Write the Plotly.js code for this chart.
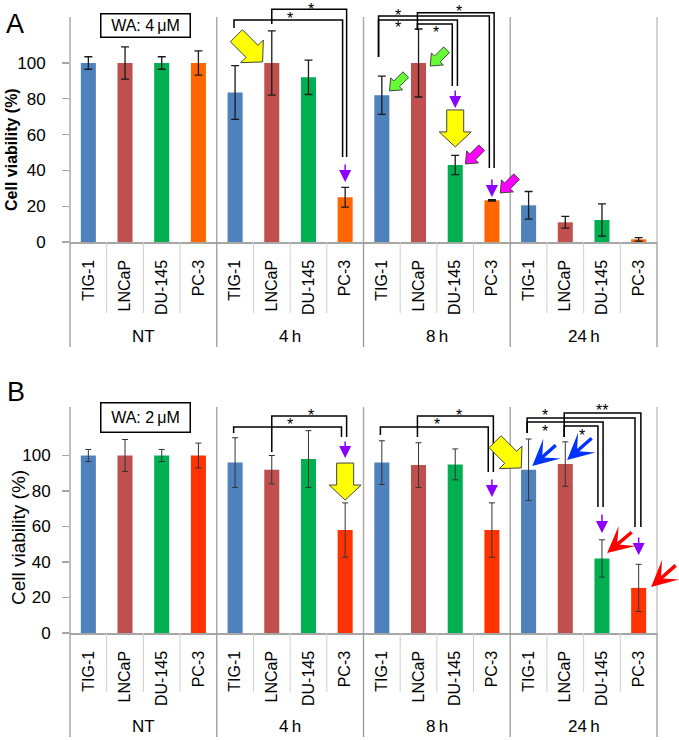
<!DOCTYPE html>
<html>
<head>
<meta charset="utf-8">
<script src="https://cdn.plot.ly/plotly-3.0.1.min.js"></script>
<style>body{margin:0;background:#fff}</style>
</head>
<body>
<div id="chart" style="width:679px;height:740px"></div>
<script>
let cellLines = ['TIG-1', 'LNCaP', 'DU-145', 'PC-3']
let timePoints = ['NT', '4\u2009h', '8\u2009h', '24\u2009h']

// WA 4 uM
let viabilityA = [100, 100, 100, 100, 83.5, 100, 92, 25, 82, 100, 43, 23.3, 20.5, 11, 12.3, 1.5]
let errorA = [3.5, 9, 3.5, 6.8, 15, 18, 9.6, 5.5, 10.7, 19, 5.4, 0.4, 7.7, 3.3, 9, 1]
// WA 2 uM
let viabilityB = [100, 100, 100, 100, 96, 92, 98, 58, 96, 94.6, 95, 58, 92, 95.2, 42, 25.4]
let errorB = [3.4, 9, 3.4, 7, 14, 8, 16, 15.3, 12.3, 12.6, 8.7, 15.3, 17.3, 12.5, 10.5, 13.3]

let colorsA = ['#4F81BD', '#C0504D', '#00B050', '#FF6600']
let colorsB = ['#4F81BD', '#C0504D', '#00B050', '#FF3300']

// significance brackets (data units): left leg x, leg end, top, right leg x, right leg end, star
let bracketsA = [
  {lx: 3.97, lEnd: 119.6, top: 124.0, rx: 6.93, rEnd: 47.5, sx: 5.49, sy: 124.8, text: '*'},
  {lx: 5.0, lEnd: 121.8, top: 130.0, rx: 7.04, rEnd: 47.5, sx: 6.08, sy: 129.9, text: '*'},
  {lx: 7.91, lEnd: 103.4, top: 126.3, rx: 10.93, rEnd: 41.3, sx: 8.44, sy: 126.4, text: '*'},
  {lx: 7.91, lEnd: 103.4, top: 124.0, rx: 10.06, rEnd: 87.2, sx: 8.43, sy: 119.6, text: '*'},
  {lx: 8.97, lEnd: 118.4, top: 128.1, rx: 11.06, rEnd: 41.3, sx: 10.09, sy: 128.9, text: '*'},
  {lx: 8.97, lEnd: 118.4, top: 121.8, rx: 9.92, rEnd: 87.2, sx: 9.48, sy: 116.8, text: '*'}
]
let bracketsB = [
  {lx: 3.96, lEnd: 112.7, top: 116.1, rx: 6.90, rEnd: 110.4, sx: 5.49, sy: 117.2, text: '*'},
  {lx: 5.0, lEnd: 102, top: 122.3, rx: 7.04, rEnd: 110.4, sx: 6.08, sy: 122.8, text: '*'},
  {lx: 7.96, lEnd: 111.5, top: 116.1, rx: 10.90, rEnd: 90.7, sx: 9.49, sy: 117.2, text: '*'},
  {lx: 8.97, lEnd: 110.4, top: 122.3, rx: 11.04, rEnd: 90.7, sx: 10.09, sy: 122.8, text: '*'},
  {lx: 11.96, lEnd: 112.7, top: 121.1, rx: 14.90, rEnd: 59.7, sx: 12.45, sy: 122.3, text: '*'},
  {lx: 11.96, lEnd: 112.7, top: 118.9, rx: 14.03, rEnd: 71.0, sx: 12.45, sy: 113.8, text: '*'},
  {lx: 12.97, lEnd: 110.4, top: 123.9, rx: 15.06, rEnd: 59.7, sx: 14.0, sy: 125.1, text: '**'},
  {lx: 12.97, lEnd: 110.4, top: 116.6, rx: 13.89, rEnd: 71.0, sx: 13.46, sy: 111.5, text: '*'}
]

let font = 'Arial, "Liberation Sans", sans-serif'
let idx = Array.from({length: 16}, (v, k) => k)
let labels = idx.map(function (i) { return cellLines[i % 4] })

function barTrace (values, errors, colors, xa, ya, errStyle) {
  return {
    type: 'bar',
    x: idx,
    y: values,
    xaxis: xa,
    yaxis: ya,
    width: 0.41,
    marker: {color: idx.map(function (i) { return colors[i % 4] })},
    error_y: {type: 'data', array: errors, visible: true, color: errStyle.color, thickness: errStyle.thickness, width: errStyle.width},
    hoverinfo: 'y'
  }
}

function makeX (anchor) {
  return {
    domain: [70 / 679, 657 / 679],
    range: [-0.5, 15.5],
    anchor: anchor,
    tickmode: 'array',
    tickvals: idx,
    ticktext: labels,
    tickangle: -90,
    tickfont: {size: 16, family: font},
    ticks: '',
    ticklabelstandoff: 10,
    showline: true,
    linecolor: '#A6A6A6',
    linewidth: 1.5,
    showgrid: false,
    zeroline: false
  }
}

function makeY (anchor, domain, top, standoff) {
  return {
    domain: domain,
    range: [0, top],
    anchor: anchor,
    tickmode: 'array',
    tickvals: [0, 20, 40, 60, 80, 100],
    ticks: 'outside',
    ticklen: 7,
    tickwidth: 1.3,
    tickcolor: '#A6A6A6',
    tickfont: {size: 17, family: font},
    ticklabelstandoff: standoff,
    showline: false,
    showgrid: false,
    zeroline: false
  }
}

function blockArrow (xa, ya, tipX, tipY, dir, size, fill) {
  // outline in pixels around the tip, pointing along dir (y up)
  let len = Math.hypot(dir[0], dir[1])
  let d = [dir[0] / len, dir[1] / len]
  let p = [-d[1], d[0]]
  let pts = [[0, 0], [-size.head, size.headW / 2], [-size.head, size.shaftW / 2], [-size.len, size.shaftW / 2],
    [-size.len, -size.shaftW / 2], [-size.head, -size.shaftW / 2], [-size.head, -size.headW / 2]]
  let path = pts.map(function (q, i) {
    let x = q[0] * d[0] + q[1] * p[0]
    let y = q[0] * d[1] + q[1] * p[1]
    return (i === 0 ? 'M' : 'L') + x.toFixed(1) + ',' + y.toFixed(1)
  }).join(' ') + ' Z'
  return {
    type: 'path', xref: xa, yref: ya, xsizemode: 'pixel', ysizemode: 'pixel',
    xanchor: tipX, yanchor: tipY, path: path, fillcolor: fill,
    line: {color: '#444', width: 1}, layer: 'above'
  }
}

function lineArrow (xa, ya, x, y, ax, ay, color, head, width, size) {
  return {
    xref: xa, yref: ya, x: x, y: y, ax: ax, ay: ay, text: '',
    showarrow: true, arrowhead: head, arrowwidth: width, arrowsize: size, arrowcolor: color
  }
}

function paperText (px, py, text, size, extra) {
  let a = {xref: 'paper', yref: 'paper', x: px / 679, y: 1 - py / 740, text: text, showarrow: false,
    xanchor: 'center', yanchor: 'middle', font: {size: size, family: font, color: 'black'}}
  return Object.assign(a, extra || {})
}

let big = {len: 37, head: 15, headW: 32, shaftW: 17}
let small = {len: 23, head: 10, headW: 17, shaftW: 8}

let shapes = []
let annotations = []

function panelFrame (xa, ya, plotTop, sepBottom, groupBottom, axisBottom) {
  for (let g = 0; g <= 4; g++) {
    // group dividers inside the plot
    shapes.push({type: 'line', xref: xa + ' domain', yref: ya, x0: g / 4, x1: g / 4, y0: 0, y1: plotTop,
      line: {color: g === 4 ? '#C4C4C4' : '#ABABAB', width: 1.5}})
    // group dividers under the axis
    shapes.push({type: 'line', xref: xa + ' domain', yref: 'paper', x0: g / 4, x1: g / 4, y0: axisBottom, y1: groupBottom,
      line: {color: '#9A9A9A', width: 1.3}})
  }
  for (let i = 0; i < 15; i++) {
    if ((i + 1) % 4 === 0) continue
    shapes.push({type: 'line', xref: xa, yref: 'paper', x0: i + 0.5, x1: i + 0.5, y0: axisBottom, y1: sepBottom,
      line: {color: '#CFCFCF', width: 1}})
  }
}

function drawBrackets (list, xa, ya) {
  for (let b of list) {
    shapes.push({type: 'path', xref: xa, yref: ya, layer: 'above',
      path: 'M' + b.lx + ',' + b.lEnd + ' L' + b.lx + ',' + b.top + ' L' + b.rx + ',' + b.top + ' L' + b.rx + ',' + b.rEnd,
      line: {color: 'black', width: 1.5}})
    annotations.push({xref: xa, yref: ya, x: b.sx, y: b.sy, text: b.text, showarrow: false,
      font: {size: 16, family: font, color: 'black'}, xanchor: 'center', yanchor: 'middle'})
  }
}

panelFrame('x', 'y', 125.7, 1 - 313 / 740, 1 - 347 / 740, 1 - 242 / 740)
panelFrame('x2', 'y2', 127.3, 1 - 692 / 740, 1 - 737 / 740, 1 - 633 / 740)
drawBrackets(bracketsA, 'x', 'y')
drawBrackets(bracketsB, 'x2', 'y2')

// block arrows, panel A
shapes.push(blockArrow('x', 'y', 4.75, 100.6, [1, -1], big, '#FFFF00'))
shapes.push(blockArrow('x', 'y', 10.0, 53.1, [0, -1], big, '#FFFF00'))
shapes.push(blockArrow('x', 'y', 8.21, 84.4, [-1, -1], small, '#66FF33'))
shapes.push(blockArrow('x', 'y', 9.32, 98.3, [-1, -1], small, '#66FF33'))
shapes.push(blockArrow('x', 'y', 10.28, 43.6, [-1, -1], small, '#FF00FF'))
shapes.push(blockArrow('x', 'y', 11.23, 27.4, [-1, -1], small, '#FF00FF'))
// block arrows, panel B
shapes.push(blockArrow('x2', 'y2', 7.0, 74.9, [0, -1], big, '#FFFF00'))
shapes.push(blockArrow('x2', 'y2', 11.8, 93, [1, -1], big, '#FFFF00'))

let purple = '#8B00FF'
annotations.push(lineArrow('x', 'y', 7, 33.5, 0, -19, purple, 2, 1.5, 1.6))
annotations.push(lineArrow('x', 'y', 10, 74.9, 0, -19, purple, 2, 1.5, 1.6))
annotations.push(lineArrow('x', 'y', 11, 25.1, 0, -19, purple, 2, 1.5, 1.6))
annotations.push(lineArrow('x2', 'y2', 7, 98.6, 0, -18, purple, 2, 1.5, 1.6))
annotations.push(lineArrow('x2', 'y2', 11, 76.6, 0, -19, purple, 2, 1.5, 1.6))
annotations.push(lineArrow('x2', 'y2', 14, 56.3, 0, -20, purple, 2, 1.5, 1.6))
annotations.push(lineArrow('x2', 'y2', 15, 43.9, 0, -19, purple, 2, 1.5, 1.6))
annotations.push(lineArrow('x2', 'y2', 12.10, 94.1, 25, -22, '#0033FF', 3, 3.5, 1.25))
annotations.push(lineArrow('x2', 'y2', 13.05, 97.5, 26, -23, '#0033FF', 3, 3.5, 1.25))
annotations.push(lineArrow('x2', 'y2', 14.14, 45.1, 26, -22, '#FF0000', 3, 3.5, 1.25))
annotations.push(lineArrow('x2', 'y2', 15.34, 25.9, 26, -23, '#FF0000', 3, 3.5, 1.25))

// time point labels
for (let g = 0; g < 4; g++) {
  annotations.push({xref: 'x', yref: 'paper', x: g * 4 + 1.5, y: 1 - 336 / 740, text: timePoints[g], showarrow: false,
    xanchor: 'center', yanchor: 'middle', font: {size: 17, family: font}})
  annotations.push({xref: 'x2', yref: 'paper', x: g * 4 + 1.5, y: 1 - 726 / 740, text: timePoints[g], showarrow: false,
    xanchor: 'center', yanchor: 'middle', font: {size: 17, family: font}})
}

// panel letters, dose boxes, y titles
annotations.push(paperText(15, 24, 'A', 27))
annotations.push(paperText(16, 392, 'B', 27))
annotations.push(paperText(145, 26, 'WA: 4\u2009\u03bcM', 16,
  {bordercolor: 'black', borderwidth: 1.5, borderpad: 2, bgcolor: 'white', width: 84, height: 18}))
annotations.push(paperText(145, 417, 'WA: 2\u2009\u03bcM', 16,
  {bordercolor: 'black', borderwidth: 1.5, borderpad: 2, bgcolor: 'white', width: 84, height: 24}))
annotations.push(paperText(11, 150, '<b>Cell viability (%)</b>', 16, {textangle: -90}))
annotations.push(paperText(18, 538, 'Cell viability (%)', 19, {textangle: -90}))

let traces = [
  barTrace(viabilityA, errorA, colorsA, 'x', 'y', {color: '#1a1a1a', thickness: 1.3, width: 4}),
  barTrace(viabilityB, errorB, colorsB, 'x2', 'y2', {color: '#333333', thickness: 1, width: 3})
]

let layout = {
  width: 679,
  height: 740,
  margin: {l: 0, r: 0, t: 0, b: 0},
  showlegend: false,
  paper_bgcolor: 'white',
  plot_bgcolor: 'rgba(0,0,0,0)',
  font: {family: font, color: 'black'},
  xaxis: makeX('y'),
  yaxis: makeY('x', [1 - 242 / 740, 1], 242 / 1.79, 13),
  xaxis2: makeX('y2'),
  yaxis2: makeY('x2', [1 - 633 / 740, 1 - 395 / 740], 238 / 1.775, 8),
  shapes: shapes,
  annotations: annotations
}

Plotly.newPlot('chart', traces, layout, {displayModeBar: false, staticPlot: true})
</script>
</body>
</html>
